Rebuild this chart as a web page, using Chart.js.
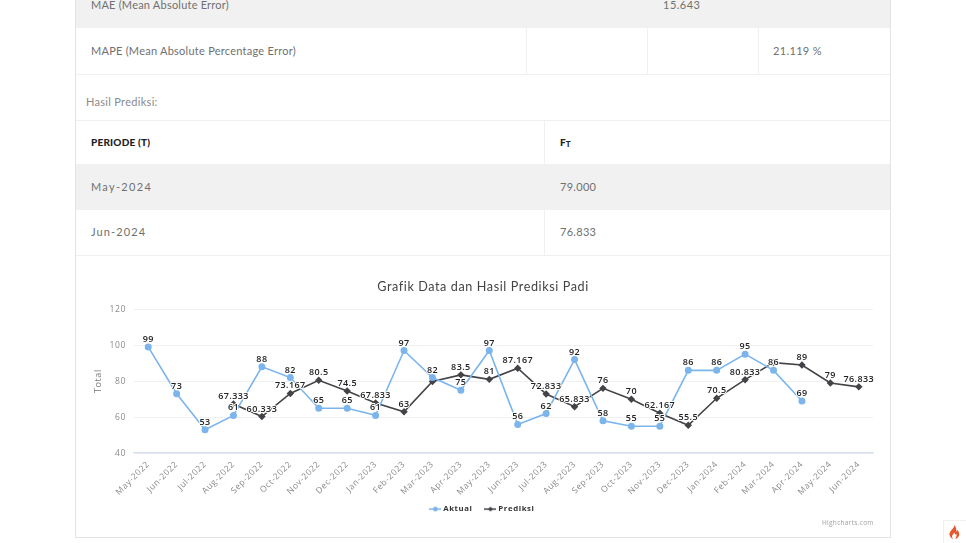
<!DOCTYPE html>
<html lang="id"><head><meta charset="utf-8">
<script src="https://cdn.jsdelivr.net/npm/chart.js@4"></script>
<style>
html,body{margin:0;padding:0;background:#fff;width:966px;height:543px;overflow:hidden}
body{position:relative;font-family:Lato,sans-serif;font-size:11px;letter-spacing:.5px;color:#707070}
.r{position:absolute;box-sizing:border-box}
.t{position:absolute;white-space:nowrap;line-height:14px}
#wrap{position:absolute;left:76px;top:256px;width:814px;height:281px}
</style></head><body>
<div class="r" style="left:75px;top:0;width:816px;height:538px;border:1px solid #e4e4e4;border-top:0"></div>
<div class="r" style="left:76px;top:0;width:814px;height:28px;background:#f1f1f1"></div>
<div class="r" style="left:76px;top:74px;width:814px;height:1px;background:#f0f0f0"></div>
<div class="r" style="left:526px;top:28px;width:1px;height:46px;background:#f0f0f0"></div>
<div class="r" style="left:647px;top:28px;width:1px;height:46px;background:#f0f0f0"></div>
<div class="r" style="left:758px;top:28px;width:1px;height:46px;background:#f0f0f0"></div>
<div class="r" style="left:76px;top:120px;width:814px;height:1px;background:#f0f0f0"></div>
<div class="r" style="left:544px;top:120px;width:1px;height:135px;background:#f0f0f0"></div>
<div class="r" style="left:76px;top:164px;width:814px;height:46px;background:#f1f1f1"></div>
<div class="r" style="left:76px;top:255px;width:814px;height:1px;background:#f0f0f0"></div>
<div class="t" style="left:91px;top:-2px;letter-spacing:.22px">MAE (Mean Absolute Error)</div>
<div class="t" style="left:663px;top:-2px">15.643</div>
<div class="t" style="left:91px;top:44px;letter-spacing:.25px">MAPE (Mean Absolute Percentage Error)</div>
<div class="t" style="left:773px;top:44px;letter-spacing:.35px">21.119 %</div>
<div class="t" style="left:86px;top:95px;color:#8a8a8a;letter-spacing:.3px">Hasil Prediksi:</div>
<div class="t" style="left:91px;top:135px;color:#222;font-weight:900;font-size:10px;letter-spacing:.2px">PERIODE (T)</div>
<div class="t" style="left:560px;top:135px;color:#222;font-weight:900;font-size:10px;letter-spacing:0">F<span style="font-size:8px;position:relative;top:1px">T</span></div>
<div class="t" style="left:91px;top:180px;letter-spacing:1.3px">May-2024</div>
<div class="t" style="left:560px;top:180px;letter-spacing:.3px">79.000</div>
<div class="t" style="left:91px;top:225px;letter-spacing:1.1px">Jun-2024</div>
<div class="t" style="left:560px;top:225px;letter-spacing:.3px">76.833</div>
<div class="r" style="left:943px;top:520px;width:23px;height:23px;background:#fff;border:1px solid #f0f0f0;border-right:0;border-bottom:0"></div>
<svg style="position:absolute;left:949px;top:525px" width="11" height="14" viewBox="0 0 11 14"><path fill="#e8572a" d="M5 0c.6 2-.9 3-2 4.400C1.800 5.900.3 7.300.5 9.500.7 12 2.600 13.600 4.300 14c-1.300-1.200-1.700-2.700-.8-4 .5-.8 1.300-1.400 1.500-2.600 1 .8 1.200 1.700 1.100 2.400.6-.2 1-.7 1.100-1.300.6 1.300.5 3.400-1 5.500 2-.4 3.800-2 4-4.300.2-2.300-1-3.700-1.900-4.700 0 .9-.4 1.500-1 1.800C7.500 4.500 7.300 1.700 5 0z"/></svg>
<div id="wrap"><canvas id="c" width="814" height="281"></canvas></div>
<div class="t" style="left:822px;top:516px;font-family:'Open Sans',sans-serif;font-size:6.500px;letter-spacing:.3px;color:#a0a0a0">Highcharts.com</div>
<script>
const categories=["May-2022","Jun-2022","Jul-2022","Aug-2022","Sep-2022","Oct-2022","Nov-2022","Dec-2022","Jan-2023","Feb-2023","Mar-2023","Apr-2023","May-2023","Jun-2023","Jul-2023","Aug-2023","Sep-2023","Oct-2023","Nov-2023","Dec-2023","Jan-2024","Feb-2024","Mar-2024","Apr-2024","May-2024","Jun-2024"];
const aktual=[99,73,53,61,88,82,65,65,61,97,82,75,97,56,62,92,58,55,55,86,86,95,86,69,null,null];
const prediksi=[null,null,null,67.333,60.333,73.167,80.5,74.5,67.833,63,79.8,83.5,81,87.167,72.833,65.833,76,70,62.167,55.5,70.5,80.833,90.3,89,79,76.833];
const prediksiLabelTersembunyi=["Mar-2023","Mar-2024"];
const warnaAktual="#7cb5ec",warnaPrediksi="#434348";
const LS="0.6px";
function swatch(color,style){
  const k=document.createElement('canvas');k.width=12;k.height=8;const x=k.getContext('2d');
  x.strokeStyle=color;x.lineWidth=1.5;x.beginPath();x.moveTo(0,4);x.lineTo(12,4);x.stroke();
  x.fillStyle=color;x.beginPath();
  if(style==='circle'){x.arc(6,4,2.4,0,Math.PI*2);}else{x.moveTo(6,1.5);x.lineTo(8.500,4);x.lineTo(6,6.500);x.lineTo(3.500,4);x.closePath();}
  x.fill();return k;
}
const spacing={id:'spacing',
  beforeLayout(c){c.ctx.letterSpacing=LS},
  afterLayout(c){c.legend.top-=14;c.legend.bottom-=14;},
  beforeDraw(c){c.ctx.letterSpacing=LS}};
const valueLabels={id:'valueLabels',afterDatasetsDraw(c){
  const x=c.ctx;x.save();x.letterSpacing='0.4px';x.font='600 9px "Open Sans",sans-serif';x.textAlign='center';x.textBaseline='alphabetic';x.lineJoin='round';
  c.data.datasets.forEach((d,i)=>{
    c.getDatasetMeta(i).data.forEach((p,j)=>{
      const v=d.data[j];if(v==null)return;
      if(i===1&&prediksiLabelTersembunyi.includes(categories[j]))return;
      const s=String(v);
      x.strokeStyle='#fff';x.lineWidth=2;x.strokeText(s,p.x,p.y-5);
      x.fillStyle='#222';x.fillText(s,p.x,p.y-5);
    });
  });
  x.restore();
}};
new Chart(document.getElementById('c'),{
  type:'line',
  data:{labels:categories,datasets:[
    {label:'Aktual',data:aktual,borderColor:warnaAktual,backgroundColor:warnaAktual,borderWidth:1.6,pointRadius:2.7,pointHoverRadius:3,pointStyle:'circle',tension:0,spanGaps:false},
    {label:'Prediksi',data:prediksi,borderColor:warnaPrediksi,backgroundColor:warnaPrediksi,borderWidth:1.6,pointRadius:2.6,pointHoverRadius:3,pointStyle:'rectRot',tension:0,spanGaps:false}
  ]},
  options:{
    responsive:false,animation:false,
    layout:{padding:{left:17,right:17,top:0,bottom:0}},
    plugins:{
      tooltip:{enabled:false},
      title:{display:true,text:'Grafik Data dan Hasil Prediksi Padi',color:'#444',font:{family:'Lato, sans-serif',size:12.6,weight:'normal'},padding:{top:23,bottom:15}},
      legend:{position:'bottom',labels:{
        font:{family:'"Open Sans",sans-serif',size:7.800,weight:'700'},color:'#333',usePointStyle:true,boxHeight:8,padding:14,
        generateLabels(c){return c.data.datasets.map((d,i)=>({text:d.label,datasetIndex:i,fontColor:'#333',strokeStyle:d.borderColor,fillStyle:d.borderColor,pointStyle:swatch(d.borderColor,i===0?'circle':'d')}))}
      }}
    },
    scales:{
      x:{type:'category',offset:true,
        afterFit(s){s.height=52},
        grid:{display:false,drawTicks:false},border:{display:true,color:'#d8e0ef',width:1.5},
        ticks:{color:'#8a8a8a',font:{family:'"Open Sans",sans-serif',size:8.500},minRotation:45,maxRotation:45,autoSkip:false,padding:6}},
      y:{min:40,max:120,
        afterFit(s){s.width=41},
        border:{display:false},grid:{color:'#eef0f3',drawTicks:false},
        title:{display:true,text:'Total',color:'#777',padding:0,font:{family:'"Open Sans",sans-serif',size:9}},
        ticks:{stepSize:20,color:'#8a8a8a',padding:8,font:{family:'"Open Sans",sans-serif',size:8.500}}}
    }
  },
  plugins:[spacing,valueLabels]
});
</script>
</body></html>
